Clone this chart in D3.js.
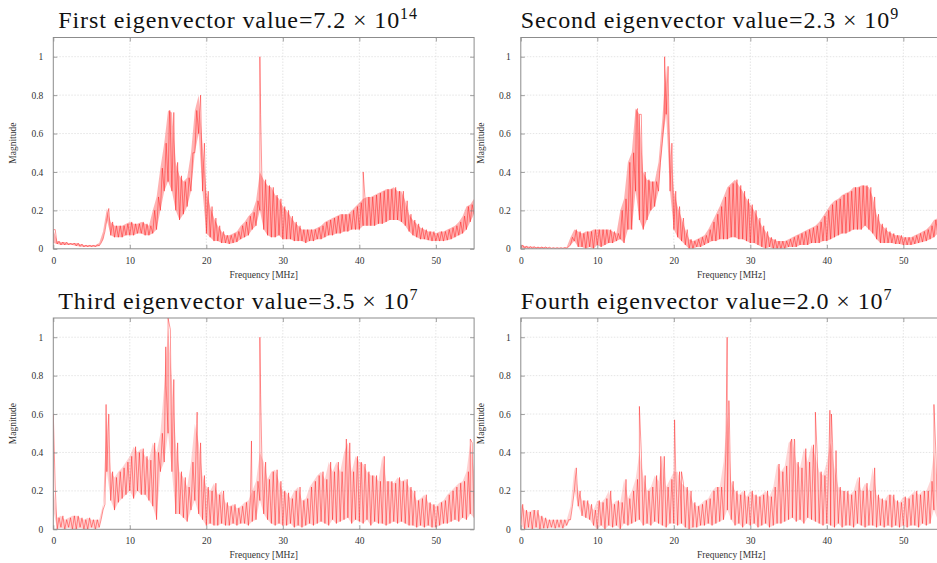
<!DOCTYPE html>
<html>
<head>
<meta charset="utf-8">
<script src="https://cdn.jsdelivr.net/npm/d3@7/dist/d3.min.js"></script>
<style>
  body { margin: 0; background: #fff; }
  svg { display: block; }
  text { font-family: "Liberation Serif", "DejaVu Serif", serif; }
</style>
</head>
<body>
<svg id="chart" width="937" height="563"></svg>
<script>
// sample frequencies every 0.5 MHz (0..55), envelope values
const freqs = [0,0.5,1,1.5,2,2.5,3,3.5,4,4.5,5,5.5,6,6.5,7,7.5,8,8.5,9,9.5,10,10.5,11,11.5,12,12.5,13,13.5,14,14.5,15,15.5,16,16.5,17,17.5,18,18.5,19,19.5,20,20.5,21,21.5,22,22.5,23,23.5,24,24.5,25,25.5,26,26.5,27,27.5,28,28.5,29,29.5,30,30.5,31,31.5,32,32.5,33,33.5,34,34.5,35,35.5,36,36.5,37,37.5,38,38.5,39,39.5,40,40.5,41,41.5,42,42.5,43,43.5,44,44.5,45,45.5,46,46.5,47,47.5,48,48.5,49,49.5,50,50.5,51,51.5,52,52.5,53,53.5,54,54.5,55];

const xTicks = [0, 10, 20, 30, 40, 50];
const yTicks = [0, 0.2, 0.4, 0.6, 0.8, 1];
const yTickLabels = ['0', '0.2', '0.4', '0.6', '0.8', '1'];

const titles = ['First', 'Second', 'Third', 'Fourth'];
const eigMantissa = ['7.2', '2.3', '3.5', '2.0'];
const eigExponent = ['14', '9', '7', '7'];

// First eigenvector
const hi1 = [0.10,0.04,0.035,0.035,0.03,0.03,0.03,0.025,0.02,0.02,0.02,0.02,0.03,0.09,0.21,0.14,0.12,0.12,0.12,0.13,0.14,0.13,0.13,0.14,0.13,0.12,0.2,0.27,0.42,0.55,0.72,0.71,0.45,0.38,0.35,0.37,0.5,0.72,0.8,0.55,0.3,0.22,0.16,0.12,0.09,0.07,0.07,0.08,0.09,0.12,0.14,0.17,0.19,0.25,0.4,0.36,0.33,0.32,0.28,0.26,0.22,0.2,0.17,0.14,0.12,0.1,0.1,0.1,0.1,0.11,0.12,0.14,0.15,0.16,0.17,0.18,0.18,0.18,0.2,0.22,0.24,0.26,0.27,0.27,0.28,0.29,0.3,0.31,0.31,0.32,0.3,0.3,0.25,0.18,0.15,0.13,0.11,0.1,0.09,0.09,0.08,0.09,0.09,0.1,0.11,0.12,0.14,0.17,0.22,0.23,0.26];
const lo1 = [0.03,0.025,0.02,0.02,0.02,0.02,0.015,0.012,0.01,0.01,0.01,0.01,0.015,0.05,0.15,0.07,0.06,0.06,0.06,0.07,0.07,0.07,0.08,0.08,0.07,0.07,0.08,0.1,0.2,0.3,0.35,0.3,0.2,0.15,0.18,0.22,0.3,0.5,0.6,0.3,0.08,0.06,0.04,0.04,0.03,0.03,0.025,0.03,0.035,0.05,0.06,0.07,0.1,0.12,0.2,0.1,0.07,0.06,0.06,0.07,0.05,0.05,0.05,0.04,0.04,0.04,0.03,0.04,0.04,0.05,0.05,0.06,0.07,0.07,0.08,0.08,0.09,0.09,0.1,0.1,0.1,0.12,0.12,0.12,0.12,0.13,0.13,0.14,0.15,0.15,0.15,0.14,0.12,0.09,0.07,0.06,0.05,0.05,0.045,0.04,0.04,0.04,0.04,0.045,0.05,0.06,0.07,0.08,0.1,0.14,0.18];
const spikes1 = [[0, 0.1], [15.2, 0.72], [27.0, 1.0], [27.1, 0.7], [40.5, 0.4]];

// Second eigenvector
const hi2 = [0.02,0.015,0.012,0.012,0.01,0.01,0.01,0.008,0.006,0.006,0.006,0.006,0.01,0.06,0.1,0.09,0.08,0.09,0.09,0.1,0.1,0.1,0.1,0.1,0.09,0.08,0.2,0.26,0.45,0.5,0.73,0.7,0.4,0.36,0.35,0.35,0.45,0.68,0.95,0.55,0.3,0.22,0.16,0.1,0.05,0.04,0.05,0.06,0.07,0.1,0.14,0.18,0.22,0.27,0.32,0.34,0.36,0.33,0.3,0.26,0.23,0.2,0.16,0.12,0.09,0.06,0.05,0.04,0.04,0.04,0.05,0.06,0.07,0.08,0.09,0.1,0.11,0.12,0.14,0.17,0.2,0.23,0.25,0.26,0.28,0.29,0.3,0.32,0.32,0.33,0.33,0.32,0.27,0.18,0.13,0.11,0.09,0.08,0.07,0.07,0.06,0.06,0.06,0.07,0.08,0.09,0.1,0.12,0.15,0.16,0.17];
const lo2 = [0.005,0.002,0.002,0.002,0.002,0.002,0.002,0.002,0.002,0.002,0.002,0.002,0.002,0.02,0.04,0.01,0.01,0.0,0.01,0.0,0.02,0.01,0.02,0.03,0.03,0.04,0.05,0.03,0.1,0.1,0.3,0.15,0.1,0.15,0.2,0.22,0.3,0.55,0.7,0.3,0.1,0.06,0.04,0.02,0.0,0.0,0.01,0.01,0.02,0.03,0.04,0.04,0.05,0.05,0.05,0.06,0.06,0.05,0.05,0.04,0.03,0.03,0.02,0.01,0.0,0.01,0.0,0.0,0.0,0.0,0.01,0.01,0.01,0.02,0.02,0.02,0.03,0.03,0.03,0.04,0.04,0.05,0.06,0.07,0.08,0.08,0.09,0.1,0.1,0.1,0.12,0.1,0.08,0.05,0.03,0.03,0.03,0.03,0.025,0.025,0.02,0.02,0.02,0.025,0.03,0.035,0.04,0.05,0.06,0.08,0.1];
const spikes2 = [[15.1, 0.72], [15.5, 0.7], [18.8, 1.0]];

// Third eigenvector
const hi3 = [0.22,0.06,0.07,0.05,0.06,0.07,0.07,0.06,0.05,0.06,0.05,0.05,0.05,0.13,0.6,0.3,0.27,0.3,0.32,0.35,0.38,0.43,0.4,0.42,0.38,0.36,0.45,0.4,0.5,0.75,1.05,0.78,0.45,0.3,0.27,0.22,0.35,0.55,0.45,0.28,0.22,0.2,0.24,0.18,0.2,0.14,0.12,0.13,0.11,0.12,0.14,0.15,0.2,0.25,0.4,0.35,0.26,0.3,0.31,0.25,0.2,0.19,0.16,0.2,0.22,0.15,0.16,0.22,0.25,0.28,0.3,0.26,0.35,0.3,0.35,0.3,0.4,0.45,0.3,0.38,0.35,0.34,0.3,0.28,0.28,0.25,0.38,0.25,0.25,0.24,0.27,0.25,0.26,0.22,0.2,0.15,0.16,0.18,0.14,0.13,0.12,0.14,0.15,0.18,0.2,0.22,0.24,0.25,0.3,0.45,0.3];
const lo3 = [0.1,0.0,0.01,0.0,0.01,0.0,0.0,0.01,0.0,0.0,0.01,0.0,0.01,0.1,0.3,0.15,0.1,0.14,0.16,0.18,0.2,0.16,0.2,0.18,0.18,0.15,0.12,0.05,0.3,0.35,0.5,0.3,0.08,0.08,0.06,0.04,0.1,0.15,0.08,0.05,0.02,0.03,0.02,0.02,0.03,0.02,0.02,0.03,0.02,0.03,0.03,0.02,0.04,0.05,0.15,0.08,0.05,0.03,0.02,0.03,0.02,0.02,0.03,0.01,0.02,0.01,0.02,0.03,0.02,0.03,0.04,0.03,0.02,0.05,0.03,0.04,0.05,0.06,0.03,0.05,0.04,0.03,0.05,0.02,0.04,0.03,0.03,0.02,0.03,0.04,0.03,0.04,0.03,0.02,0.02,0.01,0.02,0.01,0.02,0.01,0.01,0.02,0.03,0.03,0.04,0.05,0.04,0.06,0.05,0.08,0.06];
const spikes3 = [[0, 0.6], [6.9, 0.65], [14.7, 0.95], [15.0, 1.1], [15.3, 1.04], [18.8, 0.61], [25.9, 0.46], [27.0, 1.0], [27.1, 0.7], [38.3, 0.47], [54.5, 0.47]];

// Fourth eigenvector
const hi4 = [0.13,0.1,0.09,0.1,0.1,0.07,0.06,0.05,0.05,0.05,0.05,0.05,0.05,0.12,0.32,0.2,0.15,0.15,0.13,0.1,0.15,0.14,0.16,0.2,0.13,0.15,0.14,0.26,0.16,0.2,0.26,0.4,0.28,0.2,0.22,0.28,0.25,0.38,0.22,0.26,0.3,0.3,0.24,0.22,0.2,0.14,0.12,0.13,0.15,0.16,0.2,0.22,0.22,0.35,0.6,0.25,0.2,0.18,0.2,0.17,0.2,0.18,0.17,0.18,0.2,0.17,0.22,0.34,0.3,0.33,0.45,0.47,0.35,0.32,0.42,0.35,0.44,0.38,0.3,0.28,0.35,0.45,0.32,0.22,0.2,0.2,0.18,0.2,0.27,0.2,0.24,0.2,0.32,0.18,0.16,0.15,0.18,0.18,0.15,0.14,0.17,0.16,0.18,0.2,0.18,0.2,0.2,0.25,0.4,0.2,0.18];
const lo4 = [0.02,0.0,0.01,0.0,0.01,0.0,0.005,0.005,0.01,0.005,0.01,0.005,0.02,0.05,0.2,0.12,0.07,0.06,0.05,0.02,0.0,0.02,0.0,0.02,0.01,0.02,0.0,0.03,0.02,0.03,0.04,0.05,0.02,0.03,0.02,0.04,0.03,0.02,0.01,0.03,0.03,0.02,0.03,0.01,0.0,0.01,0.01,0.02,0.02,0.03,0.02,0.03,0.04,0.05,0.1,0.05,0.02,0.03,0.01,0.03,0.02,0.03,0.01,0.02,0.03,0.01,0.02,0.03,0.03,0.04,0.05,0.06,0.04,0.05,0.03,0.06,0.05,0.04,0.03,0.02,0.03,0.02,0.01,0.03,0.01,0.02,0.02,0.01,0.03,0.02,0.01,0.02,0.02,0.01,0.02,0.01,0.02,0.01,0.02,0.01,0.02,0.01,0.02,0.02,0.01,0.03,0.02,0.03,0.1,0.05,0.08];
const spikes4 = [[15.5, 0.64], [18.3, 0.38], [20.1, 0.57], [21.0, 0.3], [26.8, 0.4], [26.97, 1.0], [27.2, 0.67], [35.4, 0.47], [35.8, 0.46], [38.5, 0.61], [40.4, 0.62], [40.6, 0.6], [41.2, 0.41], [54.0, 0.65]];

const panels = [
    { hi: hi1, lo: lo1, spikes: spikes1, left: 53.3, top: 37.5, band: 0.3 },
    { hi: hi2, lo: lo2, spikes: spikes2, left: 520.8, top: 37.5, band: 0.3 },
    { hi: hi3, lo: lo3, spikes: spikes3, left: 53.3, top: 318, band: 0.18 },
    { hi: hi4, lo: lo4, spikes: spikes4, left: 520.8, top: 318, band: 0.16 },
];

const plotW = 420.8;
const plotH = 211.3;
const svg = d3.select('#chart');

panels.forEach((p, i) => {
    const g = svg.append('g').attr('transform', `translate(${p.left},${p.top})`);

    const x = d3.scaleLinear().domain([0, 55]).range([0, plotW]);
    const y = d3.scaleLinear().domain([0, 1.1]).range([plotH, 0]);

    // grid
    g.append('g').selectAll('line')
        .data(xTicks.slice(1))
        .join('line')
        .attr('x1', d => x(d)).attr('x2', d => x(d))
        .attr('y1', 0).attr('y2', plotH)
        .attr('stroke', '#d4d4d4').attr('stroke-width', 0.6)
        .attr('stroke-dasharray', '1.5,1.5');
    g.append('g').selectAll('line')
        .data(yTicks.slice(1))
        .join('line')
        .attr('x1', 0).attr('x2', plotW)
        .attr('y1', d => y(d)).attr('y2', d => y(d))
        .attr('stroke', '#d4d4d4').attr('stroke-width', 0.6)
        .attr('stroke-dasharray', '1.5,1.5');

    const clipId = 'clip' + i;
    g.append('clipPath').attr('id', clipId)
        .append('rect').attr('width', plotW).attr('height', plotH);
    const plot = g.append('g').attr('clip-path', `url(#${clipId})`);

    // pink envelope band between trough and crest
    const area = d3.area()
        .x(d => x(d))
        .y0((d, k) => y(p.lo[k]))
        .y1((d, k) => y(p.hi[k]));
    plot.append('path')
        .datum(freqs)
        .attr('d', area)
        .attr('fill', '#ff0000')
        .attr('fill-opacity', p.band);

    // the series: zig-zag between trough and crest, spikes merged in
    const pts = [];
    freqs.forEach((f, k) => {
        pts.push([f, p.lo[k]]);
        if (k < freqs.length - 1) pts.push([f + 0.25, p.hi[k]]);
    });
    p.spikes.forEach(s => pts.push(s));
    pts.sort((a, b) => a[0] - b[0]);

    const line = d3.line().x(d => x(d[0])).y(d => y(d[1]));
    plot.append('path')
        .datum(pts)
        .attr('d', line)
        .attr('fill', 'none')
        .attr('stroke', '#ff0000')
        .attr('stroke-opacity', 0.75)
        .attr('stroke-width', 0.55)
        .attr('stroke-linejoin', 'round');

    // axes (ticks inside the box, on all sides)
    const tickColor = '#888';
    const bottom = g.append('g').attr('transform', `translate(0,${plotH})`)
        .call(d3.axisBottom(x).tickValues(xTicks).tickSize(-4).tickPadding(8).tickFormat(d3.format('d')));
    const top = g.append('g')
        .call(d3.axisTop(x).tickValues(xTicks).tickSize(-4).tickFormat(''));
    const leftAx = g.append('g')
        .call(d3.axisLeft(y).tickValues(yTicks).tickSize(-4).tickPadding(10)
            .tickFormat((d, j) => yTickLabels[j]));
    const rightAx = g.append('g').attr('transform', `translate(${plotW},0)`)
        .call(d3.axisRight(y).tickValues(yTicks).tickSize(-4).tickFormat(''));

    [bottom, top, leftAx, rightAx].forEach(a => {
        a.select('.domain').remove();
        a.selectAll('.tick line').attr('stroke', tickColor).attr('stroke-width', 0.8);
        a.selectAll('text')
            .attr('font-family', '"Liberation Serif", serif')
            .attr('font-size', 9.5)
            .attr('fill', '#333');
    });

    g.append('rect')
        .attr('width', plotW).attr('height', plotH)
        .attr('fill', 'none')
        .attr('stroke', '#8c8c8c').attr('stroke-width', 1);

    // axis titles
    g.append('text')
        .attr('x', plotW / 2).attr('y', plotH + 29)
        .attr('text-anchor', 'middle')
        .attr('font-size', 9.5).attr('fill', '#333')
        .text('Frequency [MHz]');
    g.append('text')
        .attr('transform', `translate(${-37},${plotH / 2}) rotate(-90)`)
        .attr('text-anchor', 'middle')
        .attr('font-size', 9.5).attr('fill', '#333')
        .text('Magnitude');

    // panel title
    const t = g.append('text')
        .attr('x', i % 2 === 0 ? 5 : 0)
        .attr('y', -9.5)
        .attr('font-size', 24)
        .attr('letter-spacing', 0.9)
        .attr('fill', '#111')
        .text(`${titles[i]} eigenvector value=${eigMantissa[i]} \u00d7 10`);
    t.append('tspan')
        .attr('dy', -9)
        .attr('font-size', 16)
        .text(eigExponent[i]);
});
</script>
</body>
</html>
